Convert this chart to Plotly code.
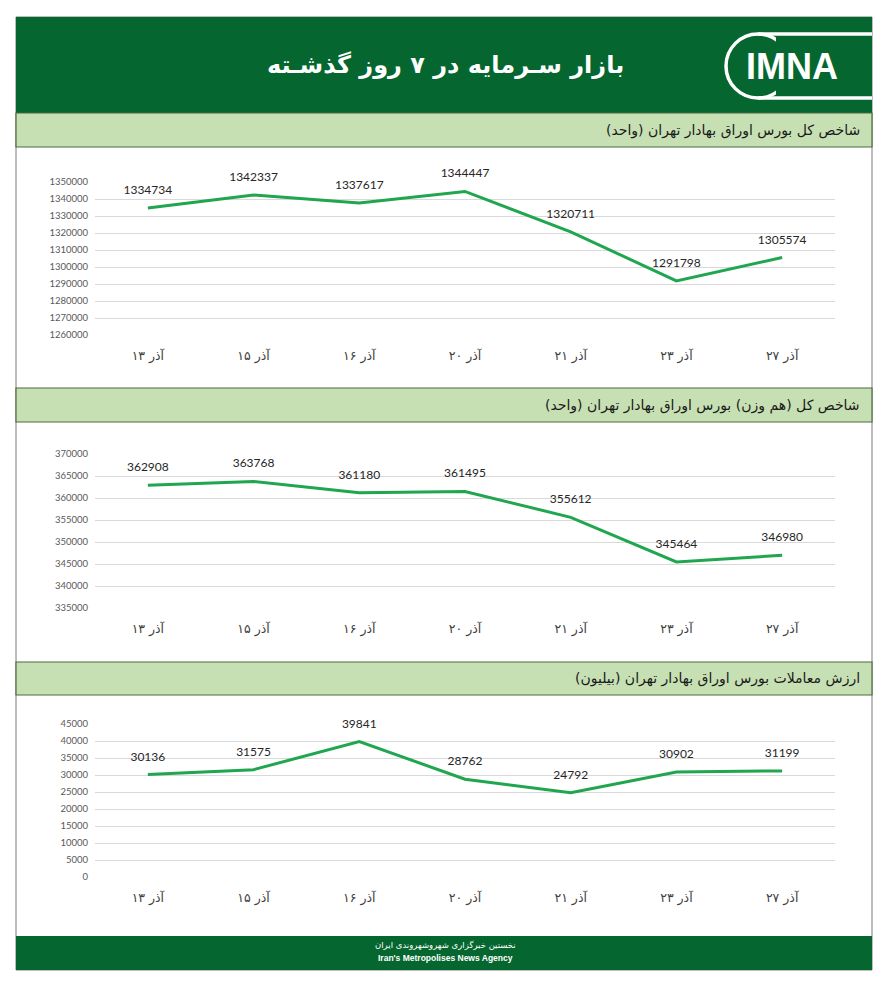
import plotly.graph_objects as go

W, H = 888, 1000

categories = ["۱۳ آذر", "۱۵ آذر", "۱۶ آذر", "۲۰ آذر", "۲۱ آذر", "۲۳ آذر", "۲۷ آذر"]
index_total = [1334734, 1342337, 1337617, 1344447, 1320711, 1291798, 1305574]
index_equal = [362908, 363768, 361180, 361495, 355612, 345464, 346980]
trade_value = [30136, 31575, 39841, 28762, 24792, 30902, 31199]

title_text = "بازار سـرمایه در ۷ روز گذشـته"
sub_titles = [
    "شاخص کل بورس اوراق بهادار تهران (واحد)",
    "شاخص کل (هم وزن) بورس اوراق بهادار تهران (واحد)",
    "ارزش معاملات بورس اوراق بهادار تهران (بیلیون)",
]
footer_fa = "نخستین خبرگزاری شهروشهروندی ایران"
footer_en = "Iran's Metropolises News Agency"

y_ranges = [(1260000, 1350000, 10000), (335000, 370000, 5000), (0, 45000, 5000)]
series = [index_total, index_equal, trade_value]

DARK = "#05672f"
LIGHT = "#c6e0b4"
LINE = "#1fa64f"
FA_FONT = "DejaVu Sans"


def px(x):
    return x / W


def py(y):
    return 1 - y / H


fig = go.Figure()

plot_boxes = [(182, 335), (454, 608), (724, 877)]
x_left, x_right = 95, 835

for i, (vals, (lo, hi, dt), (top, bot)) in enumerate(zip(series, y_ranges, plot_boxes)):
    xa = "x" if i == 0 else f"x{i+1}"
    ya = "y" if i == 0 else f"y{i+1}"
    fig.add_trace(go.Scatter(
        x=categories, y=vals, mode="lines+markers+text",
        text=[str(v) for v in vals], textposition="top center",
        textfont=dict(family="Lato", size=12, color="#262626"),
        marker=dict(size=16, color="rgba(0,0,0,0)"),
        line=dict(color=LINE, width=3),
        xaxis=xa, yaxis=ya, hoverinfo="skip", showlegend=False, cliponaxis=False,
    ))
    xkey = "xaxis" if i == 0 else f"xaxis{i+1}"
    ykey = "yaxis" if i == 0 else f"yaxis{i+1}"
    fig.update_layout(**{
        xkey: dict(domain=[px(x_left), px(x_right)], anchor=ya, type="category",
                   range=[-0.5, 6.5], showgrid=False, showline=False, zeroline=False,
                   ticks="", ticklabelstandoff=11, automargin=False,
                   tickfont=dict(family=FA_FONT, size=12.5, color="#404040")),
        ykey: dict(domain=[py(bot), py(top)], anchor=xa, range=[lo, hi], dtick=dt,
                   tick0=lo, showgrid=True, gridcolor="#d9d9d9", gridwidth=1,
                   zeroline=False, showline=False, ticks="", ticklabelstandoff=6,
                   tickformat="d", automargin=False,
                   tickfont=dict(family="Lato", size=9.5, color="#595959")),
    })

shapes = []
shapes.append(dict(type="rect", xref="paper", yref="paper", x0=px(16), x1=px(872),
                   y0=py(970), y1=py(17), fillcolor="white",
                   line=dict(color="#7a7a7a", width=1), layer="below"))
shapes.append(dict(type="rect", xref="paper", yref="paper", x0=px(16), x1=px(872),
                   y0=py(113), y1=py(17), fillcolor=DARK, line=dict(width=0), layer="below"))
for (t, b) in [(113, 147), (388, 422), (662, 695)]:
    shapes.append(dict(type="rect", xref="paper", yref="paper", x0=px(16), x1=px(872),
                       y0=py(b), y1=py(t), fillcolor=LIGHT,
                       line=dict(color="#4d6b40", width=1.2), layer="below"))
shapes.append(dict(type="rect", xref="paper", yref="paper", x0=px(16), x1=px(872),
                   y0=py(970), y1=py(936), fillcolor=DARK, line=dict(width=0), layer="below"))

# logo outline: left ring plus two rails to the right edge
shapes.append(dict(type="circle", xref="paper", yref="paper", x0=px(726), x1=px(790),
                   y0=py(98), y1=py(34), fillcolor="rgba(0,0,0,0)",
                   line=dict(color="white", width=3.5)))
for yy in (34, 98):
    shapes.append(dict(type="line", xref="paper", yref="paper", x0=px(758), x1=px(872),
                       y0=py(yy), y1=py(yy), line=dict(color="white", width=3.5)))
shapes.append(dict(type="rect", xref="paper", yref="paper", x0=px(776), x1=px(792),
                   y0=py(95), y1=py(37), fillcolor=DARK, line=dict(width=0)))

annotations = [
    dict(text=f"<b>{title_text}</b>", x=px(445), y=py(65), xref="paper", yref="paper",
         xanchor="center", yanchor="middle",
         showarrow=False, font=dict(family=FA_FONT, size=24, color="white")),
    dict(text="<b>IMNA</b>", x=px(792), y=py(67), xref="paper", yref="paper",
         xanchor="center", yanchor="middle",
         showarrow=False, font=dict(family="Liberation Sans Narrow, Liberation Sans", size=36, color="white")),
    dict(text=footer_fa, x=px(445), y=py(945), xref="paper", yref="paper",
         xanchor="center", yanchor="middle",
         showarrow=False, font=dict(family=FA_FONT, size=8.5, color="white")),
    dict(text=f"<b>{footer_en}</b>", x=px(445), y=py(958), xref="paper", yref="paper",
         xanchor="center", yanchor="middle",
         showarrow=False, font=dict(family="Liberation Sans", size=8.5, color="white")),
]
for st, yc in zip(sub_titles, [130, 405, 678]):
    annotations.append(dict(text=st, x=px(862), y=py(yc), xref="paper", yref="paper",
                            xanchor="right", yanchor="middle", showarrow=False,
                            font=dict(family=FA_FONT, size=14, color="#1a1a1a")))

fig.update_layout(width=W, height=H,
                  margin=dict(l=0, r=0, t=0, b=0, pad=0, autoexpand=False),
                  paper_bgcolor="white", plot_bgcolor="rgba(0,0,0,0)",
                  shapes=shapes, annotations=annotations)

post = (
    "var s=document.createElement('style');"
    "s.innerHTML='html,body{margin:0;padding:0;height:1000px;overflow:hidden;}"
    "body>div{height:1000px;overflow:hidden;}';"
    "document.head.appendChild(s);"
)
fig.write_html("out.html", config={"displayModeBar": False}, post_script=post)
